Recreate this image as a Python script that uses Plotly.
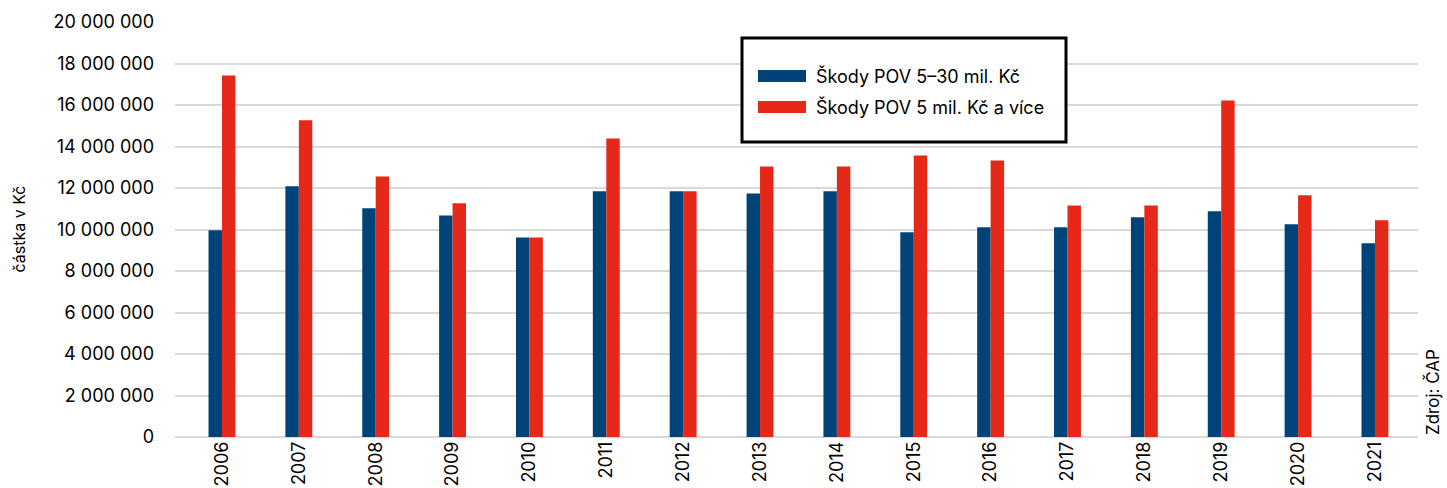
import plotly.graph_objects as go

# Roky a výše škod (Kč)
roky = ["2006", "2007", "2008", "2009", "2010", "2011", "2012", "2013",
        "2014", "2015", "2016", "2017", "2018", "2019", "2020", "2021"]
skody_5_30 = [9_960_000, 12_080_000, 11_020_000, 10_680_000, 9_620_000, 11_840_000,
              11_840_000, 11_740_000, 11_840_000, 9_870_000, 10_110_000, 10_110_000,
              10_590_000, 10_880_000, 10_250_000, 9_340_000]
skody_5_vice = [17_420_000, 15_260_000, 12_560_000, 11_260_000, 9_620_000, 14_390_000,
                11_840_000, 13_040_000, 13_040_000, 13_570_000, 13_330_000, 11_160_000,
                11_160_000, 16_220_000, 11_650_000, 10_440_000]
nazvy_rad = ["Škody POV 5–30 mil. Kč", "Škody POV 5 mil. Kč a více"]
barvy = ["#004379", "#E52817"]

FONT = "Inter"
W, H = 1447, 488
ML, MR, MT, MB = 175, 29, 22, 51
PW, PH = W - ML - MR, H - MT - MB


def px_x(p):
    return (p - ML) / PW


def px_y(p):
    return (H - MB - p) / PH


fig = go.Figure()
for nazev, hodnoty, barva in zip(nazvy_rad, [skody_5_30, skody_5_vice], barvy):
    fig.add_trace(go.Bar(x=roky, y=hodnoty, name=nazev, marker_color=barva,
                         marker_line_width=0, showlegend=False))

# vlastní legenda s širokými vzorky barev
shapes = [dict(type="rect", xref="paper", yref="paper",
               x0=px_x(742), x1=px_x(1066), y0=px_y(142), y1=px_y(38),
               line=dict(color="black", width=3), fillcolor="white", layer="above")]
annotations = []
for i, (nazev, barva) in enumerate(zip(nazvy_rad, barvy)):
    yc = 76 + i * 31
    shapes.append(dict(type="rect", xref="paper", yref="paper",
                       x0=px_x(758), x1=px_x(806), y0=px_y(yc + 6), y1=px_y(yc - 6),
                       line=dict(width=0), fillcolor=barva, layer="above"))
    annotations.append(dict(text=nazev, xref="paper", yref="paper",
                            x=px_x(814), y=px_y(yc), xanchor="left", yanchor="middle",
                            showarrow=False, font=dict(family=FONT, size=18, color="black")))

annotations.append(dict(text="částka v Kč", xref="paper", yref="paper",
                        x=px_x(18), y=0.5, textangle=-90, xanchor="center", yanchor="middle",
                        showarrow=False, font=dict(family=FONT, size=16, color="black")))
annotations.append(dict(text="Zdroj: ČAP", xref="paper", yref="paper",
                        x=px_x(1432), y=0, textangle=-90, xanchor="center", yanchor="bottom",
                        showarrow=False, font=dict(family=FONT, size=17, color="black")))

fig.update_layout(
    width=W, height=H,
    margin=dict(l=ML, r=MR, t=MT, b=MB),
    plot_bgcolor="white", paper_bgcolor="white",
    barmode="group", bargap=0.65, bargroupgap=0,
    separators=", ",
    shapes=shapes, annotations=annotations,
    font=dict(family=FONT, size=16, color="black"),
)
fig.update_xaxes(type="category", range=[-0.611, 15.56], tickangle=-90, automargin=False,
                 showgrid=False, zeroline=False, showline=False, ticks="",
                 tickfont=dict(family=FONT, size=18, color="black"))
fig.update_yaxes(range=[0, 20_000_000], dtick=2_000_000, tickformat=",d", automargin=False,
                 showgrid=True, gridcolor="#D9D9D9", gridwidth=1.5,
                 zeroline=True, zerolinecolor="#D9D9D9", zerolinewidth=1.5,
                 showline=False, ticks="", ticklabelstandoff=20,
                 tickfont=dict(family=FONT, size=18, color="black"))

fig.write_html("out.html")
